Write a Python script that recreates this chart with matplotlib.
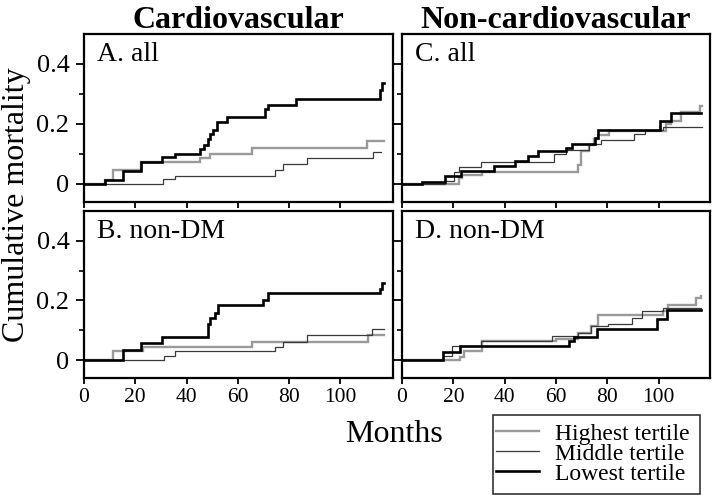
import matplotlib
matplotlib.use("Agg")
import matplotlib.pyplot as plt
from matplotlib.ticker import FixedLocator
from matplotlib.patches import Rectangle

plt.rcParams['font.family'] = ['Liberation Serif', 'DejaVu Serif']

# ---- data (months, cumulative mortality) ----
A_high_t = [0, 8.2, 11.4, 22.3, 45.4, 49.1, 65.4, 110.5, 116.8]
A_high_v = [0, 0.015, 0.046, 0.074, 0.087, 0.101, 0.12, 0.143, 0.143]
A_mid_t = [0, 30.7, 35.5, 74.5, 77.7, 86.8, 112.8, 116.0]
A_mid_v = [0, 0.016, 0.027, 0.046, 0.068, 0.086, 0.108, 0.108]
A_low_t = [0, 8.2, 15.3, 22.2, 30.3, 35.5, 45.2, 46.8, 48.5, 49.1, 50.5, 51.7, 55.6,
           70.6, 71.9, 82.6, 115.4, 116.2, 117.0]
A_low_v = [0, 0.012, 0.043, 0.074, 0.09, 0.101, 0.118, 0.13, 0.149, 0.167, 0.18, 0.207, 0.223,
           0.249, 0.263, 0.285, 0.315, 0.337, 0.337]

B_high_t = [0, 11.4, 23.1, 65.4, 110.9, 117.0]
B_high_v = [0, 0.031, 0.045, 0.062, 0.083, 0.083]
B_mid_t = [0, 31.3, 35.5, 74.5, 77.7, 86.8, 112.5, 117.0]
B_mid_v = [0, 0.014, 0.031, 0.045, 0.062, 0.083, 0.103, 0.103]
B_low_t = [0, 15.3, 22.2, 30.3, 48.2, 49.1, 51.1, 52.4, 69.9, 71.9, 115.4, 116.3, 117.0]
B_low_v = [0, 0.034, 0.057, 0.078, 0.12, 0.142, 0.158, 0.184, 0.203, 0.225, 0.24, 0.26, 0.26]

C_high_t = [0, 22.2, 23.5, 31.3, 68.4, 69.7, 72.9, 74.9, 76.5, 80.7, 102.8, 104.7, 108.7, 116.0, 116.8]
C_high_v = [0, 0.02, 0.03, 0.04, 0.064, 0.11, 0.13, 0.15, 0.165, 0.176, 0.2, 0.21, 0.24, 0.26, 0.26]
C_mid_t = [0, 16.8, 20.3, 22.2, 30.7, 59.3, 63.8, 72.9, 77.5, 90.4, 94.7, 101.5, 116.7]
C_mid_v = [0, 0.01, 0.04, 0.056, 0.072, 0.1, 0.115, 0.133, 0.147, 0.167, 0.18, 0.19, 0.19]
C_low_t = [0, 7.9, 16.8, 22.9, 35.9, 44.1, 48.9, 53.0, 63.8, 66.1, 75.2, 76.5, 100.5, 104.7, 116.4]
C_low_v = [0, 0.008, 0.028, 0.044, 0.061, 0.076, 0.093, 0.111, 0.119, 0.134, 0.153, 0.18, 0.21, 0.238, 0.238]

D_high_t = [0, 22.6, 24.2, 31.3, 59.9, 68.4, 73.6, 76.5, 101.5, 103.8, 114.5, 116.3]
D_high_v = [0, 0.012, 0.03, 0.064, 0.072, 0.09, 0.113, 0.15, 0.163, 0.186, 0.207, 0.215]
D_mid_t = [0, 16.1, 19.6, 30.7, 58.6, 68.4, 73.6, 80.1, 89.8, 93.7, 101.5, 116.3]
D_mid_v = [0, 0.015, 0.046, 0.064, 0.082, 0.09, 0.113, 0.12, 0.142, 0.163, 0.175, 0.175]
D_low_t = [0, 16.1, 22.6, 65.1, 67.0, 75.8, 99.5, 103.4, 116.3]
D_low_v = [0, 0.026, 0.048, 0.064, 0.076, 0.103, 0.137, 0.167, 0.167]

panel_labels = ["A. all", "B. non-DM", "C. all", "D. non-DM"]
col_titles = ["Cardiovascular", "Non-cardiovascular"]
series_names = ["Highest tertile", "Middle tertile", "Lowest tertile"]
x_ticks = [0, 20, 40, 60, 80, 100]
y_ticks = [0, 0.2, 0.4]
y_tick_labels = ["0", "0.2", "0.4"]

panels = [
    (A_high_t, A_high_v, A_mid_t, A_mid_v, A_low_t, A_low_v),
    (B_high_t, B_high_v, B_mid_t, B_mid_v, B_low_t, B_low_v),
    (C_high_t, C_high_v, C_mid_t, C_mid_v, C_low_t, C_low_v),
    (D_high_t, D_high_v, D_mid_t, D_mid_v, D_low_t, D_low_v),
]

W, H = 713, 495
fig = plt.figure(figsize=(W / 100, H / 100), dpi=100)

def px_axes(l, t, r, b):
    return fig.add_axes([l / W, 1 - b / H, (r - l) / W, (b - t) / H])

boxes = [(84, 34, 393, 202), (84, 211, 393, 378), (402, 34, 710, 202), (402, 211, 710, 378)]
styles = [dict(color="#9a9a9a", lw=1.7), dict(color="#3a3a3a", lw=0.9), dict(color="black", lw=1.9)]

handles = []
for i, (box, data, lab) in enumerate(zip(boxes, panels, panel_labels)):
    ax = px_axes(*box)
    for k in range(3):
        t, v = data[2 * k], data[2 * k + 1]
        ln, = ax.step(t, v, where="post", **styles[k], solid_joinstyle="miter")
        if i == 0:
            handles.append(ln)
    ax.set_xlim(0, 120.5 if i < 2 else 120)
    ax.set_ylim(-0.06, 0.5)
    ax.xaxis.set_major_locator(FixedLocator(x_ticks))
    ax.yaxis.set_major_locator(FixedLocator(y_ticks))
    ax.yaxis.set_minor_locator(FixedLocator([0.1, 0.3]))
    ax.tick_params(axis="x", which="major", direction="out", length=4.5, width=1.3,
                   labelsize=15.5, pad=3)
    ax.tick_params(axis="y", which="major", direction="out", length=6, width=1.3,
                   labelsize=19, pad=4.5)
    ax.tick_params(axis="y", which="minor", direction="out", length=3.5, width=1.2)
    if i in (0, 1):
        ax.set_yticklabels(y_tick_labels)
    else:
        ax.set_yticklabels([])
    if i in (1, 3):
        ax.set_xticklabels([str(x) for x in x_ticks])
    else:
        ax.set_xticklabels([])
    for s in ax.spines.values():
        s.set_linewidth(1.6)
    ax.text(0.042, 0.955, lab, transform=ax.transAxes, ha="left", va="top", fontsize=20)

fig.text((84 + 393) / 2 / W, 1 - 28 / H, col_titles[0], ha="center", va="baseline",
         fontsize=23, fontweight="bold")
fig.text((402 + 710) / 2 / W, 1 - 28 / H, col_titles[1], ha="center", va="baseline",
         fontsize=23, fontweight="bold")
fig.text(394 / W, 1 - 442 / H, "Months", ha="center", va="baseline", fontsize=23)
fig.text(17 / W, 1 - 205 / H, "Cumulative mortality", ha="center", va="center",
         rotation=90, fontsize=23)

# legend (frame drawn separately to match the asymmetric padding)
leg = fig.legend(handles, series_names, loc="upper left",
                 bbox_to_anchor=(496 / W, 1 - 423 / H), borderaxespad=0,
                 fontsize=17, frameon=False, handlelength=1.8, handletextpad=0.7,
                 labelspacing=-0.06, borderpad=0.0)
fig.patches.append(Rectangle((493 / W, 1 - 494 / H), (700 - 493) / W, (494 - 415) / H,
                             transform=fig.transFigure, fill=False,
                             edgecolor="#333333", linewidth=1.2))

fig.savefig("out.png", dpi=100)
